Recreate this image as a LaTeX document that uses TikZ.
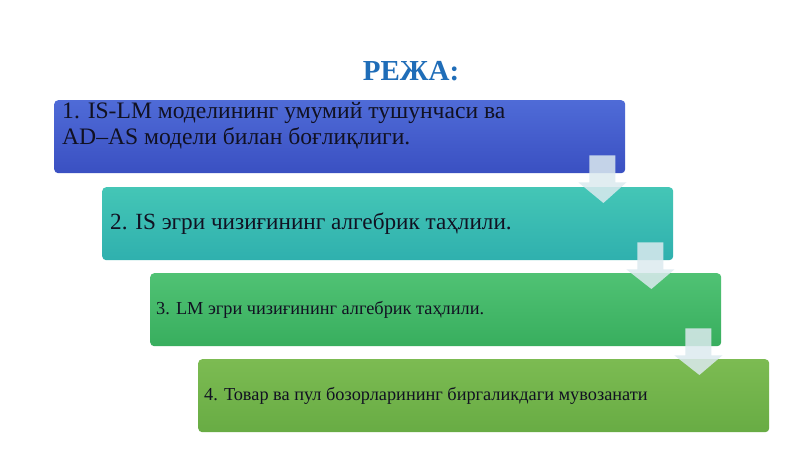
\documentclass[tikz,border=0pt]{standalone}
\usepackage{fontspec}
\setmainfont{Liberation Serif}
\usetikzlibrary{calc}
\definecolor{titleblue}{HTML}{1F6DB8}
\definecolor{bAtop}{HTML}{4F6BD7}
\definecolor{bAbot}{HTML}{3A50C2}
\definecolor{bBtop}{HTML}{44C6B6}
\definecolor{bBbot}{HTML}{2FB0AE}
\definecolor{bCtop}{HTML}{50C274}
\definecolor{bCbot}{HTML}{38AE5E}
\definecolor{bDtop}{HTML}{7CBB52}
\definecolor{bDbot}{HTML}{68AC44}
\definecolor{arrowcol}{HTML}{DCEAEF}
\definecolor{txt}{HTML}{111122}
\tikzset{
  stepbox/.style={anchor=north west, minimum width=571pt, minimum height=73pt,
    inner sep=0pt, rounded corners=4pt, draw=none},
  steptext/.style={anchor=west, inner sep=0pt, text=txt, align=left},
  arrowfill/.style={fill=arrowcol, fill opacity=0.85, draw=none}
}
\begin{document}
\begin{tikzpicture}[x=1pt,y=-1pt]
\useasboundingbox (0,0) rectangle (800,449);
\fill[white] (0,0) rectangle (800,449);
\node[anchor=base, inner sep=0pt, text=titleblue, font=\fontsize{29}{33}\selectfont\bfseries] (title) at (411,81) {РЕЖА:};
\node[stepbox, top color=bAtop, bottom color=bAbot] (b1) at (54,100) {};
\node[stepbox, top color=bBtop, bottom color=bBbot] (b2) at (102,187) {};
\node[stepbox, top color=bCtop, bottom color=bCbot] (b3) at (150,273) {};
\node[stepbox, top color=bDtop, bottom color=bDbot] (b4) at (198,359) {};
\node[anchor=north west, inner sep=0pt, text=txt, align=left, font=\fontsize{23.6}{26}\selectfont] (t1) at ($(b1.north west)+(8,2)$) {1. IS-LM моделининг умумий тушунчаси ва\\AD–AS модели билан боғлиқлиги.};
\node[steptext, font=\fontsize{23.2}{26}\selectfont] (t2) at ($(b2.west)+(8,0)$) {2. IS эгри чизиғининг алгебрик таҳлили.};
\node[steptext, font=\fontsize{18.3}{22}\selectfont] (t3) at ($(b3.west)+(6,0)$) {3. LM эгри чизиғининг алгебрик таҳлили.};
\node[steptext, font=\fontsize{18.3}{22}\selectfont] (t4) at ($(b4.west)+(6,0)$) {4. Товар ва пул бозорларининг биргаликдаги мувозанати};
\foreach \a/\b in {b1/b2,b2/b3,b3/b4}{
  \fill[arrowfill] ($(\a.south east)+(-36,-18)$) -- ++(26,0) -- ++(0,27) -- ++(11,0)
    -- ($(\b.north east)+(-70,16)$) -- ($(\a.south east)+(-47,9)$) -- ++(11,0) -- cycle;
}
\end{tikzpicture}
\end{document}
